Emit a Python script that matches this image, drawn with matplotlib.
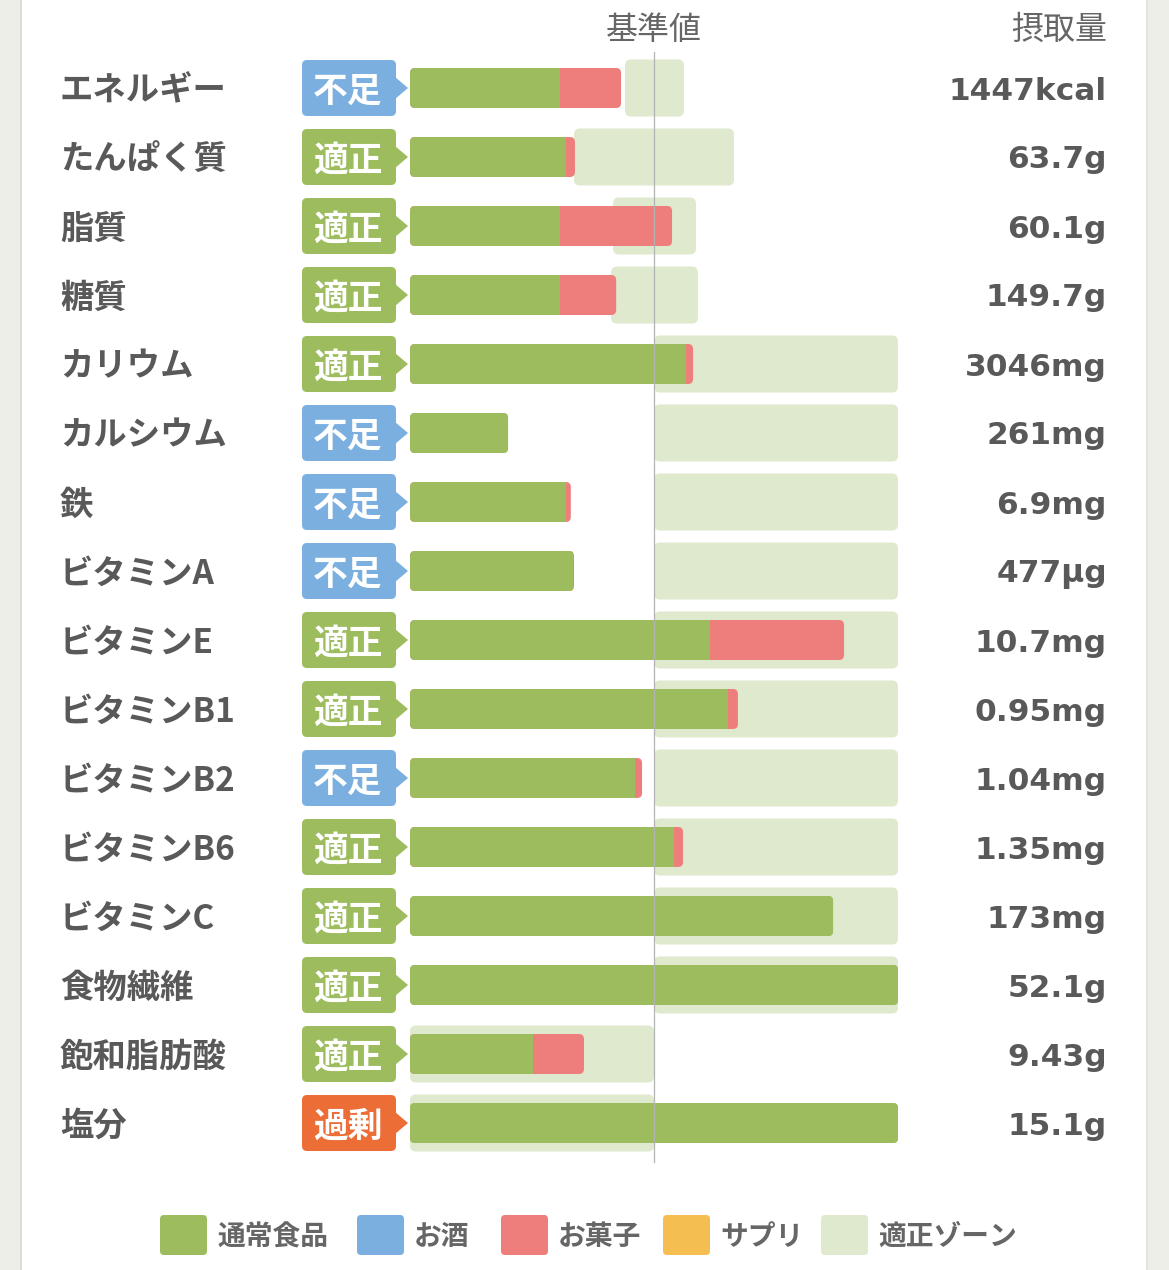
import matplotlib
matplotlib.use("Agg")
import matplotlib.pyplot as plt
from matplotlib.patches import FancyBboxPatch, Polygon, Rectangle

plt.rcParams['font.family'] = ['Noto Sans CJK JP', 'DejaVu Sans']

# nutrient data (percent of reference value, bars capped at 200)
nutrients = ["エネルギー", "たんぱく質", "脂質", "糖質", "カリウム", "カルシウム", "鉄",
             "ビタミンA", "ビタミンE", "ビタミンB1", "ビタミンB2", "ビタミンB6",
             "ビタミンC", "食物繊維", "飽和脂肪酸", "塩分"]
status = ["不足", "適正", "適正", "適正", "適正", "不足", "不足", "不足",
          "適正", "適正", "不足", "適正", "適正", "適正", "適正", "過剰"]
food_pct = [61.5, 63.9, 61.5, 61.5, 113.1, 40.2, 63.9, 66.6,
            123.0, 130.3, 92.2, 108.2, 173.4, 200.0, 50.4, 200.0]
sweets_pct = [25.0, 3.7, 45.9, 23.0, 2.9, 0.0, 2.0, 0.6,
              54.9, 4.1, 2.9, 3.7, 0.0, 0.0, 20.9, 0.0]
zone_lo = [88.1, 67.2, 83.2, 82.4, 100, 100, 100, 100,
           100, 100, 100, 100, 100, 100, 0, 0]
zone_hi = [112.3, 132.8, 117.2, 118.0, 200, 200, 200, 200,
           200, 200, 200, 200, 200, 200, 100, 100]
intake = ["1447kcal", "63.7g", "60.1g", "149.7g", "3046mg", "261mg", "6.9mg", "477μg",
          "10.7mg", "0.95mg", "1.04mg", "1.35mg", "173mg", "52.1g", "9.43g", "15.1g"]

legend_names = ["通常食品", "お酒", "お菓子", "サプリ", "適正ゾーン"]
legend_colors = ["#9dbc5e", "#7aafe0", "#ee7e7c", "#f5be50", "#dfe9cd"]

badge_colors = {"不足": "#7aafe0", "適正": "#9dbc5e", "過剰": "#ec6d36"}
GREEN = "#9dbc5e"
RED = "#ee7e7c"
ZONE = "#dfe9cd"
TEXT = "#595959"

# layout in pixels
W, H = 1169, 1270
BAR_L, BAR_R = 410, 898
ppx = (BAR_R - BAR_L) / 200.0
ROW0, ROW_H = 88, 69
TXT_DY = 3 / ROW_H   # text sits a little lower than the bar centre


def fx(px):
    return (px - BAR_L) / ppx


def fy(py):
    return (py - ROW0) / ROW_H


def rbox(x0, w, yc, h_px, color, r_px=4, z=1):
    r = min(r_px / ppx, w / 2.0)
    p = FancyBboxPatch((x0, yc - h_px / ROW_H / 2), w, h_px / ROW_H,
                       boxstyle=f"round,pad=0,rounding_size={r}",
                       mutation_aspect=ppx / ROW_H, fc=color, ec="none", zorder=z)
    ax.add_patch(p)
    return p


fig = plt.figure(figsize=(W / 100, H / 100), dpi=100)
fig.patch.set_facecolor("white")
fig.patches.append(Rectangle((0, 0), 20 / W, 1, transform=fig.transFigure, fc="#eeeee9", ec="none"))
fig.patches.append(Rectangle((1148 / W, 0), 21 / W, 1, transform=fig.transFigure, fc="#eeeee9", ec="none"))
fig.patches.append(Rectangle((20 / W, 0), 2 / W, 1, transform=fig.transFigure, fc="#dcdcd5", ec="none"))
fig.patches.append(Rectangle((1146 / W, 0), 2 / W, 1, transform=fig.transFigure, fc="#e4e4de", ec="none"))

ax = fig.add_axes([0, 0, 1, 1])
ax.set_xlim(fx(0), fx(W))
ax.set_ylim(fy(H), fy(0))
ax.axis("off")

for i, name in enumerate(nutrients):
    # zone
    rbox(zone_lo[i], zone_hi[i] - zone_lo[i], i, 57, ZONE, r_px=6, z=1)
    # stacked bar: outline in red, green clipped into it
    total = min(food_pct[i] + sweets_pct[i], 200)
    outline = rbox(0, total, i, 40, RED if sweets_pct[i] > 0 else GREEN, r_px=5, z=2)
    g = ax.barh(i, food_pct[i], height=40 / ROW_H, left=0, color=GREEN, zorder=3)
    g[0].set_clip_path(outline)

    # badge
    col = badge_colors[status[i]]
    rbox(fx(302), fx(396) - fx(302), i, 56, col, r_px=5, z=2)
    ax.add_patch(Polygon([(fx(395), i - 11 / ROW_H), (fx(408), i), (fx(395), i + 11 / ROW_H)],
                         closed=True, fc=col, ec="none", zorder=2))
    ax.text(fx(348), i + TXT_DY, status[i], ha="center", va="center", fontsize=25,
            fontweight="bold", color="white", zorder=4)

    ax.text(fx(60), i + TXT_DY, name, ha="left", va="center", fontsize=24,
            fontweight="bold", color=TEXT)
    ax.text(fx(1107), i + TXT_DY, intake[i], ha="right", va="center", fontsize=22.5,
            fontweight="bold", color=TEXT, family=["DejaVu Sans"])

# reference line
ax.plot([100, 100], [fy(52), fy(1162)], color="#b3b3b3", lw=0.9, zorder=6)

ax.text(100, fy(30), "基準値", ha="center", va="center", fontsize=23, color="#666666")
ax.text(fx(1107), fy(30), "摂取量", ha="right", va="center", fontsize=23, color="#666666")

# legend
leg_x = [160, 357, 501, 663, 821]
for lx, name, col in zip(leg_x, legend_names, legend_colors):
    rbox(fx(lx), 47 / ppx, fy(1235), 40, col, r_px=4, z=2)
    ax.text(fx(lx + 57), fy(1237), name, ha="left", va="center", fontsize=20,
            fontweight="bold", color="#666666")

fig.savefig("out.png", dpi=100, facecolor="white")
